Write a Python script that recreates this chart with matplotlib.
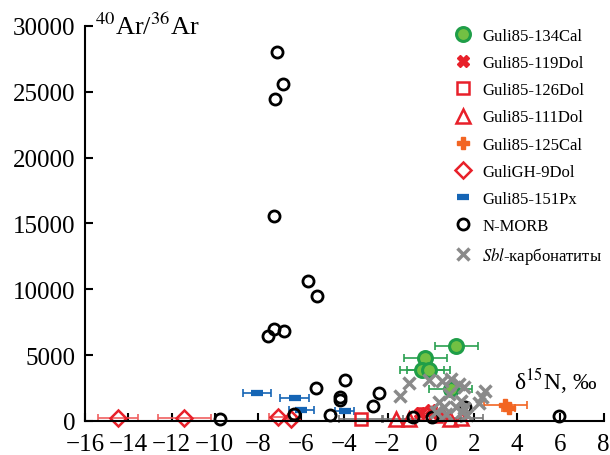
import matplotlib
matplotlib.use('Agg')
import matplotlib.pyplot as plt

plt.rcParams['font.family'] = ['Liberation Serif', 'DejaVu Serif']
plt.rcParams['mathtext.fontset'] = 'stix'

# Guli85-134Cal
cal134_x = [1.18, -0.26, -0.41, -0.10, 0.93]
cal134_y = [5715, 4760, 3900, 3900, 2430]
cal134_err = [1.0, 1.0, 1.0, 1.0, 1.0]

# Guli85-119Dol
dol119_x = [-0.5, 0.0, 0.4]
dol119_y = [600, 800, 550]

# Guli85-126Dol
dol126_x = [-3.25, -0.3, 0.25]
dol126_y = [150, 500, 400]
dol126_err = [1.0, 0.0, 0.0]

# Guli85-111Dol
dol111_x = [-1.6, -1.0, 0.9, 1.4]
dol111_y = [150, 150, 150, 200]
dol111_err = [0.6, 0.3, 0.5, 1.0]

# Guli85-125Cal
cal125_x = [3.45, 3.6]
cal125_y = [1250, 1000]
cal125_err = [1.0, 0.3]

# GuliGH-9Dol
gh9_x = [-14.47, -11.4, -7.06, -6.45]
gh9_y = [200, 200, 280, 150]
gh9_err = [0.92, 1.22, 0.45, 0.2]

# Guli85-151Px
px151_x = [-8.03, -6.3, -5.99, -3.99]
px151_y = [2100, 1780, 800, 780]
px151_err = [0.65, 0.67, 0.57, 0.44]

# N-MORB
morb_x = [-7.14, -6.83, -7.22, -7.25, -5.68, -5.25, -7.25, -6.79, -7.55,
          -5.30, -3.98, -4.22, -4.19, -2.41, -2.69, -4.65, -6.34, -9.75,
          -0.80, 0.05, 1.58, 5.92]
morb_y = [28000, 25600, 24450, 15550, 10600, 9500, 7000, 6800, 6450,
          2500, 3080, 1800, 1600, 2150, 1100, 450, 500, 150,
          280, 280, 1080, 400]

# Sbl-carbonatites
sbl_x = [-1.02, -1.44, -0.1, 0.52, 0.95, 1.31, 1.55, 0.85, 2.5, 2.36, 2.23,
         1.39, 0.39, 0.62, 1.16, 1.54, 0.23, 0.70, 1.46, 1.69]
sbl_y = [2900, 1900, 3120, 3000, 3220, 2810, 2560, 2050, 2300, 1850, 1350,
         1540, 1420, 1040, 1040, 960, 660, 530, 660, 455]

red = '#e8202a'
green_edge = '#1f9e48'
green_face = '#72c043'
orange = '#f26522'
blue = '#1565b5'
gray = '#8a8a8a'

fig = plt.figure(figsize=(6.1, 4.56), dpi=100)
ax = fig.add_axes([0.1395, 0.0746, 0.85, 0.8663])

eb = dict(fmt='none', capsize=3, elinewidth=1.2, capthick=1.2, clip_on=False)
ax.errorbar(gh9_x, gh9_y, xerr=gh9_err, ecolor='#f06060', **eb)
ax.errorbar(px151_x, px151_y, xerr=px151_err, ecolor=blue, **eb)
ax.errorbar(dol126_x, dol126_y, xerr=dol126_err, ecolor='#777777', **eb)
ax.errorbar(dol111_x, dol111_y, xerr=dol111_err, ecolor='#777777', **eb)
ax.errorbar(cal134_x, cal134_y, xerr=cal134_err, ecolor='#2aa050', **eb)
ax.errorbar(cal125_x, cal125_y, xerr=cal125_err, ecolor=orange, **eb)

ax.plot(cal134_x, cal134_y, 'o', ms=10, mfc=green_face, mec=green_edge, mew=2.2,
        label='Guli85-134Cal', clip_on=False)
ax.plot(dol119_x, dol119_y, 'X', ms=8, color=red, mec=red, label='Guli85-119Dol', clip_on=False)
ax.plot(dol126_x, dol126_y, 's', ms=9, mfc='none', mec=red, mew=1.8,
        label='Guli85-126Dol', clip_on=False)
ax.plot(dol111_x, dol111_y, '^', ms=10, mfc='none', mec=red, mew=1.8,
        label='Guli85-111Dol', clip_on=False)
ax.plot(cal125_x, cal125_y, 'P', ms=9, color=orange, mec=orange, label='Guli85-125Cal', clip_on=False)
ax.plot(gh9_x, gh9_y, 'D', ms=8, mfc='none', mec=red, mew=1.8,
        label='GuliGH-9Dol', clip_on=False)
ax.plot(px151_x, px151_y, '_', ms=9, color=blue, mew=4.5, label='Guli85-151Px', clip_on=False)
ax.plot(morb_x, morb_y, 'o', ms=8, mfc='none', mec='black', mew=2,
        label='N-MORB', clip_on=False)
ax.plot(sbl_x, sbl_y, 'x', ms=8, color=gray, mew=2.5,
        label='$\\it{Sbl}$-карбонатиты', clip_on=False)

ax.set_xlim(-16, 8)
ax.set_ylim(0, 30000)
ax.set_xticks(range(-16, 9, 2))
ax.set_yticks(range(0, 30001, 5000))
ax.spines['top'].set_visible(False)
ax.spines['right'].set_visible(False)
for s in ['left', 'bottom']:
    ax.spines[s].set_linewidth(1.5)
ax.tick_params(direction='in', length=6, width=1.5, labelsize=18, pad=7)
ax.tick_params(axis='x', pad=8.5)

ax.text(-15.55, 30000, '$^{40}$Ar/$^{36}$Ar', fontsize=19, va='center', ha='left')
ax.text(3.85, 3100, 'δ$^{15}$N, ‰', fontsize=17, va='center', ha='left')

ax.legend(loc='upper left', bbox_to_anchor=(0.713, 0.995), frameon=False,
          fontsize=12, labelspacing=0.67, handlelength=1.0, handletextpad=0.65,
          borderaxespad=0.0, borderpad=0.0)

fig.savefig('out.png', dpi=100)
